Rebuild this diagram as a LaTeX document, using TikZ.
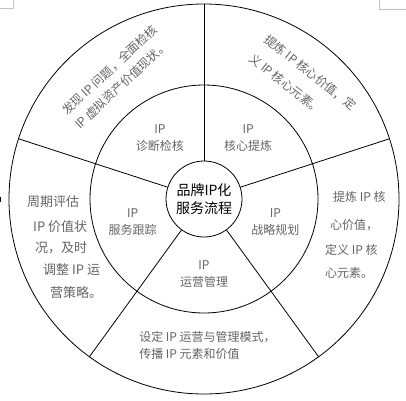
\documentclass[tikz,border=0pt]{standalone}
\usepackage{fontspec}
\setmainfont{Noto Sans CJK SC}
\usepackage{tikz}
\usetikzlibrary{shapes}
\definecolor{mygray}{RGB}{100, 100, 100}
\definecolor{mymark}{RGB}{195, 195, 195}
\tikzset{ring/.style = {draw, circle, inner sep = 0pt, line width = 0.8pt},
         stagelabel/.style = {text = mygray, align = center, font = \fontsize{12}{17}\selectfont},
         note/.style = {text = mygray, align = left, inner sep = 0pt, font = \fontsize{12}{19}\selectfont},
         cropmark/.style = {mymark, line width = 0.6pt}}

\begin{document}
\begin{tikzpicture}[x = 1pt, y = 1pt]

\useasboundingbox (-204, -201) rectangle (202, 199);

% rings
\node[ring, minimum size = 390pt] (rim) at (0, 0) {};
\node[ring, minimum size = 228pt] (mid) at (0, 0) {};
\node[ring, minimum size = 76pt, align = center, font = \fontsize{14}{18}\selectfont] (core) at (0, 0) {品牌IP化\\服务流程};

% sector borders
\foreach \a in {90, 162, 234, 306, 18}
  \draw[line width = 0.8pt] (core.\a) -- (rim.\a);

% inner ring
\foreach \a/\t [count = \i] in {126/诊断检核, 54/核心提炼, -18/战略规划, -90/运营管理, 198/服务跟踪}
  \node[stagelabel] (stage\i) at (\a:75) {IP\\\t};

% outer ring
\node[note, rotate = 43] (check) at (-88, 122) {发现 IP 问题，全面检核\\IP 虚拟资产价值现状。};
\node[note, rotate = -38, font = \fontsize{12}{24}\selectfont] (refine) at (99, 117) {提炼 IP 核心价值，定\\义 IP 核心元素。};
\foreach \x/\y/\t [count = \i] in {129/2/提炼 IP 核, 126/-26/心价值，, 121/-51/定义 IP 核, 121/-74/心元素。}
  \node[note, anchor = west] (plan\i) at (\x, \y) {\t};
\node[note, font = \fontsize{12}{17}\selectfont] (ops) at (3.5, -146.5) {设定 IP 运营与管理模式，\\传播 IP 元素和价值};
\foreach \x/\y/\t [count = \i] in {-177/-3/周期评估, -171/-28/IP 价值状, -169/-49/况，及时, -161/-71/调整 IP 运, -154/-94/营策略。}
  \node[note, anchor = west, font = \fontsize{13}{19}\selectfont] (track\i) at (\x, \y) {\t};

% page marks
\draw[cropmark] (-191, 199) -- (-191, 191) -- (-204, 191);
\draw[cropmark] (175, 199) -- (175, 190) -- (202, 190);
\draw[line width = 1pt] (-203.5, 2) -- (-203.5, -3);

\end{tikzpicture}
\end{document}
